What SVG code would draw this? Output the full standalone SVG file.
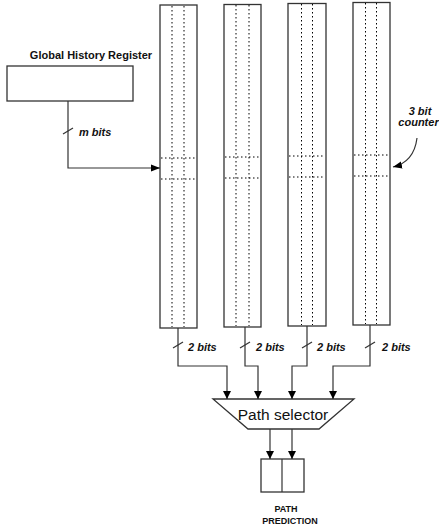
<svg xmlns="http://www.w3.org/2000/svg" width="439" height="529" viewBox="0 0 439 529">
<style>
.box{fill:#fff;stroke:#333;stroke-width:1.3}
.dot{stroke:#000;stroke-width:1;stroke-dasharray:1.5 2.5;fill:none}
.wire{fill:none;stroke:#333;stroke-width:1.2}
.lbl{font-family:"Liberation Sans",Arial,sans-serif;font-size:11px;font-weight:bold;fill:#111}
.it{font-style:italic}
.sm{font-size:9px}
</style>
<defs>
<marker id="ah" viewBox="0 0 10 10" refX="10" refY="5" markerWidth="8" markerHeight="8" markerUnits="userSpaceOnUse" orient="auto"><path d="M0,0 L10,5 L0,10 Z" fill="#000"/></marker>
<marker id="ah2" viewBox="0 0 10 10" refX="10" refY="5" markerWidth="9" markerHeight="9" markerUnits="userSpaceOnUse" orient="auto"><path d="M0,1 L10,5 L0,9 Z" fill="#000"/></marker>
</defs>

<g id="ghr">
<text class="lbl" x="91" y="59" text-anchor="middle">Global History Register</text>
<rect class="box" x="7" y="66" width="126" height="35"/>
</g>

<g id="table1">
<rect class="box" x="160" y="5" width="37" height="323"/>
<line class="dot" x1="172" y1="6" x2="172" y2="327"/>
<line class="dot" x1="184" y1="6" x2="184" y2="327"/>
<line class="dot" x1="161" y1="158" x2="196" y2="158"/>
<line class="dot" x1="161" y1="179" x2="196" y2="179"/>
</g>
<g id="table2">
<rect class="box" x="224" y="4.5" width="37" height="322.5"/>
<line class="dot" x1="236" y1="5" x2="236" y2="326"/>
<line class="dot" x1="249" y1="5" x2="249" y2="326"/>
<line class="dot" x1="225" y1="157" x2="260" y2="157"/>
<line class="dot" x1="225" y1="178" x2="260" y2="178"/>
</g>
<g id="table3">
<rect class="box" x="288" y="3.5" width="38" height="322.5"/>
<line class="dot" x1="301.5" y1="4" x2="301.5" y2="325"/>
<line class="dot" x1="312.5" y1="4" x2="312.5" y2="325"/>
<line class="dot" x1="289" y1="156" x2="325" y2="156"/>
<line class="dot" x1="289" y1="177" x2="325" y2="177"/>
</g>
<g id="table4">
<rect class="box" x="353" y="2.5" width="37" height="322.5"/>
<line class="dot" x1="365.5" y1="3" x2="365.5" y2="324"/>
<line class="dot" x1="376.5" y1="3" x2="376.5" y2="324"/>
<line class="dot" x1="354" y1="155" x2="389" y2="155"/>
<line class="dot" x1="354" y1="176" x2="389" y2="176"/>
</g>

<g id="counter-label">
<text class="lbl it" x="420" y="114.5" text-anchor="middle">3 bit</text>
<text class="lbl it" x="418.5" y="125.5" text-anchor="middle">counter</text>
</g>

<g id="selector">
<path class="box" d="M213,399 L354,399 L319,429 L248,429 Z"/>
<text x="283" y="420" text-anchor="middle" font-family="Liberation Sans,Arial,sans-serif" font-size="15.5" fill="#111">Path selector</text>
</g>

<g id="prediction">
<rect class="box" x="261" y="459" width="43" height="33"/>
<line class="wire" x1="282" y1="459" x2="282" y2="492"/>
<text class="lbl sm" x="286" y="512" text-anchor="middle">PATH</text>
<text class="lbl sm" x="290" y="523.5" text-anchor="middle">PREDICTION</text>
</g>

<g id="connectors">
<path class="wire" d="M68,101 V168 H160" marker-end="url(#ah2)"/>
<line class="wire" x1="63" y1="134" x2="73" y2="128"/>
<text class="lbl it" x="79" y="136">m bits</text>

<path class="wire" d="M417,138 Q414,162 393,167" marker-end="url(#ah2)"/>

<path class="wire" d="M178,328 V366 H227 V399" marker-end="url(#ah)"/>
<path class="wire" d="M245,327 V366 H258 V399" marker-end="url(#ah)"/>
<path class="wire" d="M307,326 V366 H292 V399" marker-end="url(#ah)"/>
<path class="wire" d="M370,325 V366 H333 V399" marker-end="url(#ah)"/>

<line class="wire" x1="173" y1="348" x2="183" y2="342"/>
<line class="wire" x1="240" y1="348" x2="250" y2="342"/>
<line class="wire" x1="302" y1="348" x2="312" y2="342"/>
<line class="wire" x1="365" y1="348" x2="375" y2="342"/>
<text class="lbl it" x="188" y="351">2 bits</text>
<text class="lbl it" x="256" y="351">2 bits</text>
<text class="lbl it" x="317" y="351">2 bits</text>
<text class="lbl it" x="382" y="351">2 bits</text>

<line class="wire" x1="270" y1="429" x2="270" y2="459" marker-end="url(#ah)"/>
<line class="wire" x1="292" y1="429" x2="292" y2="459" marker-end="url(#ah)"/>
</g>
</svg>
